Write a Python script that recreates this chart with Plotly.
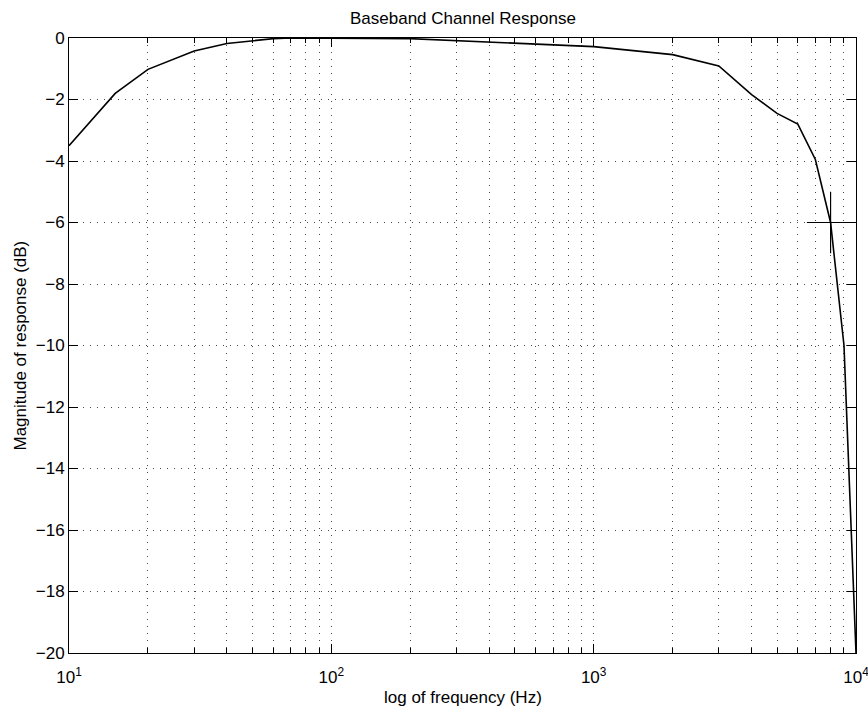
import plotly.graph_objects as go

# Data
freq_hz = [10, 15, 20, 30, 40, 50, 60, 70, 100, 200, 1000, 2000, 3000, 4000,
           5000, 6000, 7000, 8000, 9000, 10000]
mag_db = [-3.5, -1.8, -1.02, -0.42, -0.18, -0.08, -0.02, 0.0, 0.0, -0.02,
          -0.28, -0.54, -0.91, -1.84, -2.45, -2.8, -3.95, -6.0, -10.0, -20.0]

# -6 dB cutoff marker (cross)
cross_h_x = [6500, 10000]
cross_h_y = [-6, -6]
cross_v_x = [8000, 8000]
cross_v_y = [-5, -7]

major_x = [10, 100, 1000, 10000]
major_x_text = ["10<sup>1</sup>", "10<sup>2</sup>", "10<sup>3</sup>", "10<sup>4</sup>"]
minor_x = [m * d for d in [10, 100, 1000] for m in range(2, 10)]
y_ticks = list(range(0, -21, -2))
y_text = [("\u2212" + str(-v)) if v < 0 else str(v) for v in y_ticks]

FONT = "Liberation Sans, Arial, Helvetica, sans-serif"
DOT = "1px,6px"
GRIDC = "rgba(40,40,40,0.85)"

fig = go.Figure()
fig.add_trace(go.Scatter(x=freq_hz, y=mag_db, mode="lines",
                         line=dict(color="black", width=1.6),
                         showlegend=False, hoverinfo="skip"))
fig.add_trace(go.Scatter(x=cross_h_x, y=cross_h_y, mode="lines",
                         line=dict(color="black", width=1.2),
                         showlegend=False, hoverinfo="skip"))
fig.add_trace(go.Scatter(x=cross_v_x, y=cross_v_y, mode="lines",
                         line=dict(color="black", width=1.2),
                         showlegend=False, hoverinfo="skip"))

fig.update_xaxes(
    type="log", range=[0.99999, 4.00001],
    tickmode="array", tickvals=major_x, ticktext=major_x_text,
    ticks="inside", ticklen=9, tickwidth=1, tickcolor="black",
    showline=True, linecolor="black", linewidth=1, mirror="allticks",
    showgrid=True, gridcolor=GRIDC, gridwidth=1, griddash=DOT,
    minor=dict(tickmode="array", tickvals=minor_x, ticks="inside", ticklen=5,
               tickcolor="black", tickwidth=1,
               showgrid=True, gridcolor=GRIDC, gridwidth=1, griddash=DOT),
    tickfont=dict(family=FONT, size=17, color="black"),
    ticklabelstandoff=9,
    ticklabeloverflow="allow",
    automargin=False,
    zeroline=False,
)
fig.update_yaxes(
    range=[-20.00001, 0.00001],
    tickmode="array", tickvals=y_ticks, ticktext=y_text,
    ticks="inside", ticklen=9, tickwidth=1, tickcolor="black",
    showline=True, linecolor="black", linewidth=1, mirror="allticks",
    showgrid=True, gridcolor=GRIDC, gridwidth=1, griddash=DOT,
    tickfont=dict(family=FONT, size=17, color="black"),
    ticklabeloverflow="allow",
    automargin=False,
    zeroline=False,
)

fig.add_annotation(text="Baseband Channel Response", xref="paper", yref="paper",
                   x=0.5, y=1 + (38 - 18) / 615, xanchor="center", yanchor="middle",
                   showarrow=False, font=dict(family=FONT, size=17, color="black"))
fig.add_annotation(text="log of frequency (Hz)", xref="paper", yref="paper",
                   x=0.5, y=-(697 - 653) / 615, xanchor="center", yanchor="middle",
                   showarrow=False, font=dict(family=FONT, size=17, color="black"))
fig.add_annotation(text="Magnitude of response (dB)", xref="paper", yref="paper",
                   x=(20 - 69) / 787, y=0.5, xanchor="center", yanchor="middle",
                   textangle=-90,
                   showarrow=False, font=dict(family=FONT, size=17, color="black"))

fig.update_layout(
    width=868, height=706,
    margin=dict(l=69, r=12, t=38, b=53, autoexpand=False),
    paper_bgcolor="white", plot_bgcolor="white",
    showlegend=False,
)

fig.write_html("out.html")
